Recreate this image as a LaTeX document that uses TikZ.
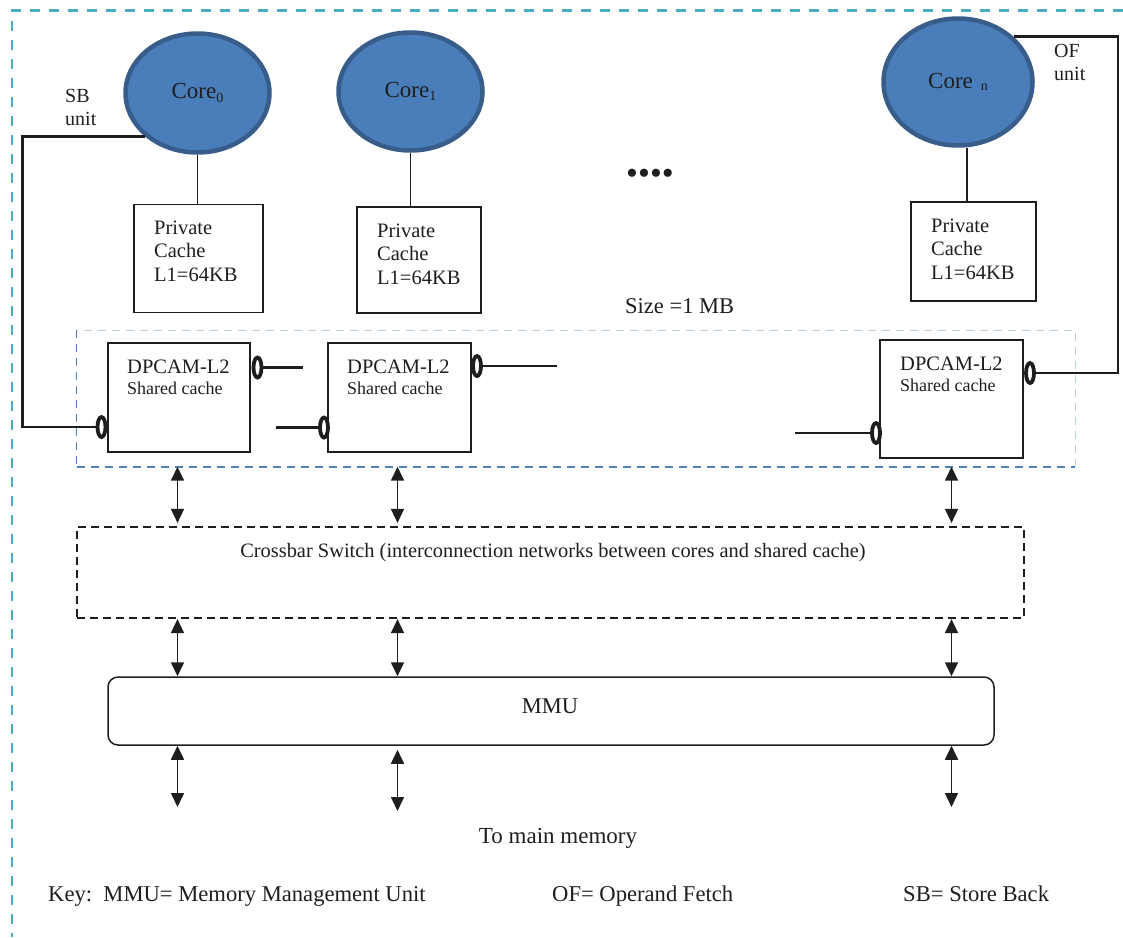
\documentclass[tikz,border=0pt]{standalone}
\usepackage{fontspec}
\setmainfont{Liberation Serif}
\usetikzlibrary{arrows.meta,shapes.geometric}
\definecolor{coreblue}{HTML}{4A7EBB}
\definecolor{coreedge}{HTML}{385D8A}
\definecolor{outerdash}{HTML}{4BACC6}
\definecolor{ltwodark}{HTML}{4F81BD}
\definecolor{ltwolight}{HTML}{B9CDE5}
\definecolor{ink}{HTML}{1E1E1E}
\begin{document}
\frenchspacing
\begin{tikzpicture}[x=1pt,y=-1pt,
  core/.style={ellipse, fill=coreblue, draw=coreedge, line width=4.5pt, inner sep=0pt, text=ink, font=\fontsize{23}{26}\selectfont},
  cbox/.style={draw=ink, line width=1.8pt, inner sep=0pt},
  ring/.style={ellipse, draw=ink, line width=3.8pt, fill=white, minimum width=8pt, minimum height=20pt, inner sep=0pt},
  wire/.style={draw=ink, line width=2.8pt},
  link/.style={draw=ink, line width=1.7pt},
  dbl/.style={draw=ink, line width=1.6pt, {Triangle[length=14pt,width=13pt]}-{Triangle[length=14pt,width=13pt]}},
  txt/.style={inner sep=0pt, text=ink},
  ttw/.style={txt, font=\fontsize{20.5}{23.5}\selectfont},
  tts/.style={txt, font=\fontsize{18}{21}\selectfont},
  ttb/.style={txt, font=\fontsize{22.6}{26}\selectfont},
  multi/.style={anchor=base west, text width=110pt, align=left}
]
\useasboundingbox (0,0) rectangle (1123,937);

% outer frame
\draw[outerdash, line width=2.5pt, dash pattern=on 10pt off 9pt] (1123,10.5) -- (12,10.5) -- (12,937);

% cores
\node[core, minimum width=144pt, minimum height=119pt] (c0) at (197.5,93) {Core\raisebox{-3.5pt}{\fontsize{14}{14}\selectfont 0}};
\node[core, minimum width=144pt, minimum height=118pt] (c1) at (410.5,91.5) {Core\raisebox{-3.5pt}{\fontsize{14}{14}\selectfont 1}};
\node[core, minimum width=149pt, minimum height=127pt] (cn) at (958,82) {Core\hspace{8pt}\raisebox{-1.5pt}{\fontsize{14}{14}\selectfont n}};

% private caches
\node[cbox, minimum width=129pt, minimum height=108pt] (pc0) at (198.5,258.5) {};
\node[cbox, minimum width=124pt, minimum height=106pt] (pc1) at (419,260) {};
\node[cbox, minimum width=125pt, minimum height=99pt] (pcn) at (973.5,251.5) {};
\node[ttw, multi] (pc0t) at (154,234) {Private\\Cache\\L1=64KB};
\node[ttw, multi] (pc1t) at (377,237) {Private\\Cache\\L1=64KB};
\node[ttw, multi] (pcnt) at (931,232) {Private\\Cache\\L1=64KB};

\draw[link] (c0.south) -- (c0.south |- pc0.north);
\draw[link] (c1.south) -- (c1.south |- pc1.north);
\coordinate (cnx) at (967,0);
\draw[link] (cnx |- cn.south) -- (cnx |- pcn.north);

% dots and size
\node[txt, font=\fontsize{34}{34}\selectfont] (dots) at (650,177) {••••};
\node[txt, font=\fontsize{22.5}{26}\selectfont, anchor=base west] (size) at (625,313) {Size =1 MB};

% shared L2 region
\node[inner sep=0pt, minimum width=998pt, minimum height=136pt] (l2) at (576,398.5) {};
\draw[ltwolight, line width=1.2pt, dash pattern=on 8pt off 6pt] (l2.south east) -- (l2.north east) -- (l2.north west);
\draw[ltwodark, line width=1.2pt, dash pattern=on 8pt off 6pt] (l2.north west) -- (l2.south west);
\draw[ltwodark, line width=2pt, dash pattern=on 8pt off 6pt] (l2.south west) -- (l2.south east);

% DPCAM boxes
\node[cbox, minimum width=142pt, minimum height=109pt] (dp0) at (179,397.5) {};
\node[cbox, minimum width=143pt, minimum height=109pt] (dp1) at (399.5,397.5) {};
\node[cbox, minimum width=143pt, minimum height=118pt] (dpn) at (951.5,399) {};
\node[ttw, anchor=base west] (dp0a) at (127,373) {DPCAM-L2};
\node[tts, anchor=base west] (dp0b) at (127,394) {Shared cache};
\node[ttw, anchor=base west] (dp1a) at (347,373) {DPCAM-L2};
\node[tts, anchor=base west] (dp1b) at (347,394) {Shared cache};
\node[ttw, anchor=base west] (dpna) at (900,370) {DPCAM-L2};
\node[tts, anchor=base west] (dpnb) at (900,391) {Shared cache};

% rings (ports)
\node[ring] (r0r) at (257.5,367.5) {};
\node[ring] (r0l) at (101.5,427) {};
\node[ring] (r1l) at (324,427.5) {};
\node[ring] (r1r) at (477,366) {};
\node[ring] (rnr) at (1030,373) {};
\node[ring] (rnl) at (876,433) {};

\coordinate (e0r) at (303,367.5);
\coordinate (e1l) at (276,427.5);
\coordinate (e1r) at (557,366);
\coordinate (enl) at (795,433);
\draw[wire] (r0r) -- (e0r);
\draw[wire] (e1l) -- (r1l);
\draw[wire] (r1r) -- (e1r);
\draw[wire] (enl) -- (rnl);

% SB and OF paths
\coordinate (sbrail) at (22.5,0);
\coordinate (ofrail) at (1118,0);
\draw[wire] (c0.220) -- (c0.220 -| sbrail) |- (r0l);
\draw[wire] (cn.39) -- (cn.39 -| ofrail) |- (rnr);
\node[txt, font=\fontsize{20}{23}\selectfont, multi] (sbt) at (65,102) {SB\\unit};
\node[txt, font=\fontsize{20}{23}\selectfont, multi] (oft) at (1054,57) {OF\\unit};

% crossbar
\node[draw=ink, line width=2.2pt, dash pattern=on 8pt off 5pt, minimum width=947pt, minimum height=91pt, inner sep=0pt] (cb) at (550.5,572.5) {};
\node[txt, font=\fontsize{20.4}{24}\selectfont, anchor=base] (cbt) at (553,557) {Crossbar Switch (interconnection networks between cores and shared cache)};

% MMU
\node[draw=ink, line width=1.5pt, rounded corners=10pt, minimum width=886pt, minimum height=68pt, inner sep=0pt] (mmu) at (551,711) {};
\node[txt, font=\fontsize{22.5}{26}\selectfont, anchor=base] (mmut) at (550,713) {MMU};

% arrows
\coordinate (a0) at (177.5,0);
\coordinate (a1) at (397.5,0);
\coordinate (an) at (951.5,0);
\coordinate (memlvl) at (0,807);
\coordinate (memlvlb) at (0,811);
\draw[dbl] (a0 |- l2.south) -- ([yshift=3pt]a0 |- cb.north);
\draw[dbl] (a1 |- l2.south) -- ([yshift=3pt]a1 |- cb.north);
\draw[dbl] (an |- l2.south) -- ([yshift=3pt]an |- cb.north);
\draw[dbl] (a0 |- cb.south) -- (a0 |- mmu.north);
\draw[dbl] (a1 |- cb.south) -- (a1 |- mmu.north);
\draw[dbl] (an |- cb.south) -- (an |- mmu.north);
\draw[dbl] (a0 |- mmu.south) -- (a0 |- memlvl);
\draw[dbl] ([yshift=-4pt]a1 |- mmu.south) -- (a1 |- memlvlb);
\draw[dbl] (an |- mmu.south) -- (an |- memlvl);

\node[txt, font=\fontsize{23}{26}\selectfont, anchor=base] (tmm) at (558,843) {To main memory};

% key
\node[ttb, anchor=base west] (key1) at (48,901) {Key:\ \ MMU= Memory Management Unit};
\node[ttb, anchor=base west] (key2) at (552,901) {OF= Operand Fetch};
\node[ttb, anchor=base west] (key3) at (903,901) {SB= Store Back};
\end{tikzpicture}
\end{document}
